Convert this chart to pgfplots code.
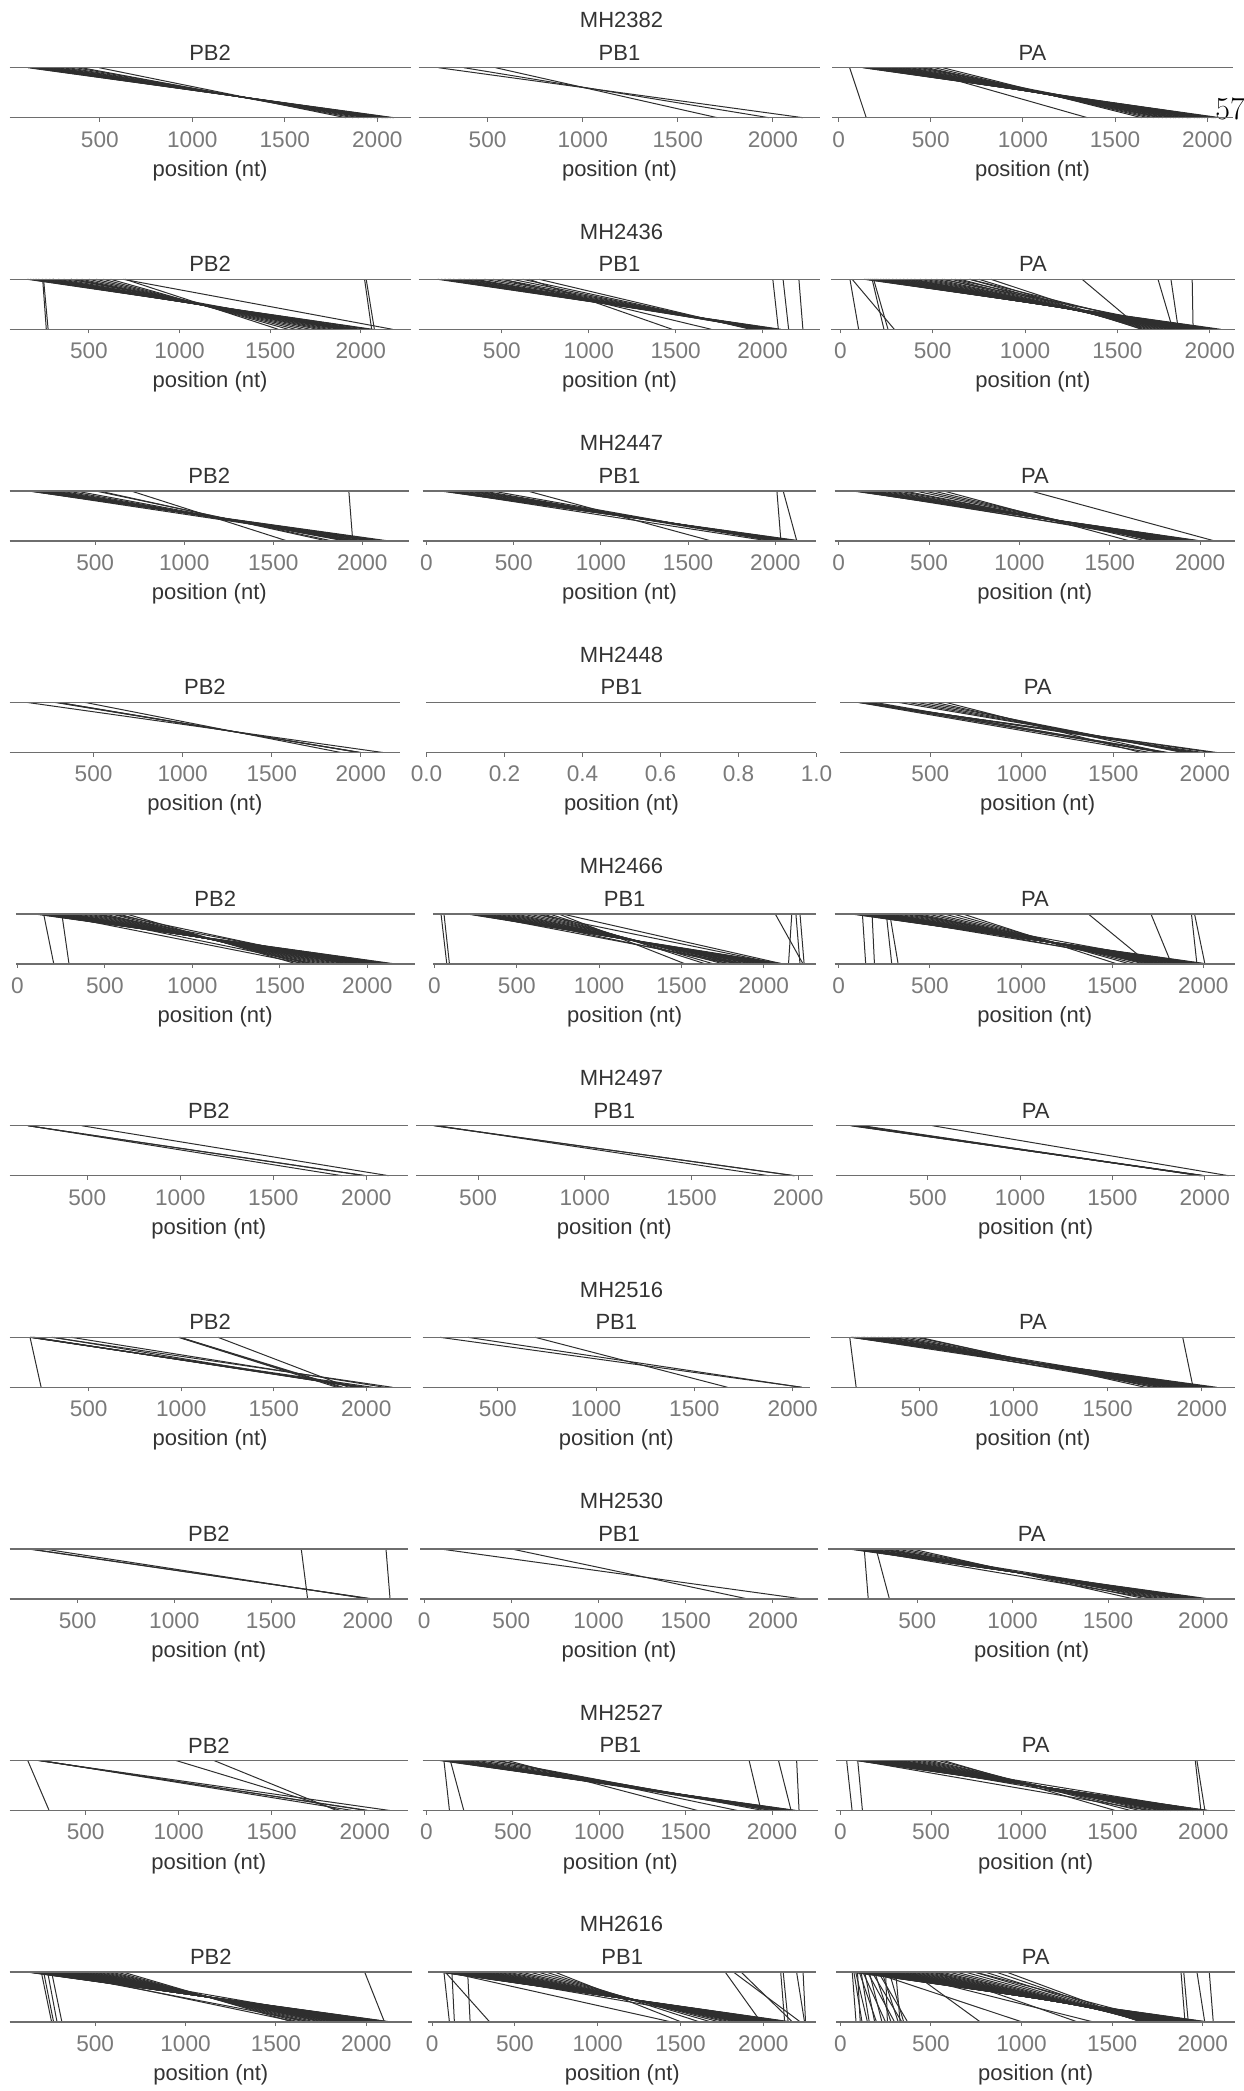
\documentclass[border=0pt]{standalone}
\usepackage{fontspec}
\usepackage{pgfplots}
\pgfplotsset{compat=1.18}
\newfontfamily\sans{Liberation Sans}
\definecolor{axgray}{HTML}{6E6E6E}
\definecolor{tickgray}{HTML}{7A7A7A}
\definecolor{txtcol}{HTML}{333333}
\definecolor{lncol}{HTML}{2E2E2E}
\newcommand\fs{\sans\fontsize{11.3}{13}\selectfont}
\newcommand\ft{\sans\fontsize{11}{13}\selectfont}
\pgfplotsset{
 panel/.style={
  scale only axis, height=25pt, ymin=0, ymax=1, ytick=\empty,
  xtick={0,500,1000,1500,2000},
  xtick pos=left, tick align=outside, major tick length=2pt,
  tick style={axgray, line width=0.5pt},
  axis line style={draw=none},
  clip=false, scaled x ticks=false,
  xticklabel style={font=\fs, text=tickgray, yshift=-1.3pt},
  /pgf/number format/1000 sep={},
  /pgf/number format/assume math mode=true,
  xlabel={position (nt)},
  every axis x label/.style={at={(axis description cs:0.5,0)}, anchor=center, yshift=-26.4pt, font=\ft, text=txtcol},
  every axis title/.style={at={(axis description cs:0.5,1)}, anchor=center, yshift=7.6pt, font=\ft, text=txtcol},
 },
 seg/.style={draw=lncol, line width=0.5pt, quiver={u=\thisrow{b}-\thisrow{a}, v=-1}},
}
\newcommand\frameit{%
 \draw[axgray, line width=0.65pt] (rel axis cs:0,0) -- (rel axis cs:1,0);
 \draw[axgray, line width=0.65pt] (rel axis cs:0,1) -- (rel axis cs:1,1);}
% #1 left, #2 right (reference units), #3 row, #4 xmin, #5 xmax, #6 title, #7 segments (start end)
\newcommand\panel[7]{%
 \pgfmathsetmacro\pL{#1*0.39635}%
 \pgfmathsetmacro\pW{(#2-#1)*0.39635}%
 \pgfmathsetmacro\pB{-(117.7+211.6*#3)*0.5}%
 \begin{axis}[panel, at={(\pL pt,\pB pt)}, anchor=south west, width=\pW pt, xmin=#4, xmax=#5, title={#6}]
 \addplot[seg] table[x=a, y expr=1, row sep=\\] {a b\\ #7};
 \frameit
 \end{axis}}
\newcommand\emptypanel[4]{%
 \pgfmathsetmacro\pL{#1*0.39635}%
 \pgfmathsetmacro\pW{(#2-#1)*0.39635}%
 \pgfmathsetmacro\pB{-(117.7+211.6*#3)*0.5}%
 \begin{axis}[panel, at={(\pL pt,\pB pt)}, anchor=south west, width=\pW pt, xmin=0, xmax=1, title={#4},
   xtick={0,0.2,0.4,0.6,0.8,1}, xticklabels={0.0,0.2,0.4,0.6,0.8,1.0}]
 \frameit
 \end{axis}}
\begin{document}
\begin{tikzpicture}
\useasboundingbox (0,0) rectangle (621.5pt,-1045.5pt);
\foreach \r/\t in {0/MH2382,1/MH2436,2/MH2447,3/MH2448,4/MH2466,5/MH2497,6/MH2516,7/MH2530,8/MH2527,9/MH2616}
  \node[font=\ft, text=txtcol] at (310.75pt,{-(20+211.6*\r)*0.5pt}) {\t};
\node[font=\fontsize{16}{16}\selectfont, anchor=base west, inner sep=0pt] at (607.5pt,-59.6pt) {57};
% ---------- MH2382
\panel{12}{518}{0}{12}{2180}{PB2}{111 2090\\125 2075\\140 2060\\160 2050\\175 2040\\190 2030\\210 2010\\230 2000\\250 1990\\270 1970\\300 1950\\330 1930\\370 1900\\400 1870\\497 1830\\}
\panel{528}{1035}{0}{137}{2250}{PB1}{242 2158\\375 1979\\542 1708\\}
\panel{1050}{1555}{0}{-34}{2138}{PA}{60 150\\396 1350\\130 2070\\140 2050\\150 2030\\165 2010\\180 1990\\195 1975\\210 1950\\230 1935\\250 1910\\270 1895\\290 1870\\310 1850\\330 1830\\360 1805\\390 1780\\420 1760\\450 1740\\480 1710\\520 1680\\565 1645\\200 2040\\280 1960\\350 1900\\450 1820\\}
% ---------- MH2436
\panel{12}{518}{1}{62}{2275}{PB2}{250 275\\245 265\\2021 2060\\2030 2075\\690 2175\\160 2065\\175 2050\\190 2030\\205 2000\\220 1980\\240 1960\\260 1940\\280 1920\\300 1900\\330 1880\\360 1850\\400 1820\\430 1790\\460 1760\\500 1720\\540 1680\\580 1640\\620 1600\\700 1545\\300 1960\\400 1900\\}
\panel{528}{1035}{1}{21}{2333}{PB1}{2059 2091\\2118 2150\\2209 2232\\656 1480\\505 1705\\131 2105\\150 2090\\170 2080\\190 2070\\220 2060\\250 2050\\280 2040\\310 2030\\350 2020\\400 2000\\450 1990\\500 1980\\560 1960\\620 1950\\715 1930\\200 2030\\260 2010\\330 1990\\}
\panel{1048}{1558}{1}{-52}{2137}{PA}{52 99\\64 292\\172 236\\180 258\\1309 1631\\1720 1800\\1790 1830\\1905 1910\\129 2060\\140 2040\\150 2030\\160 2010\\170 2000\\180 1990\\190 1975\\200 1960\\215 1950\\230 1940\\245 1925\\260 1910\\280 1900\\300 1890\\320 1870\\340 1860\\360 1850\\380 1830\\400 1810\\430 1800\\460 1780\\490 1760\\520 1740\\560 1720\\600 1700\\650 1680\\700 1660\\750 1640\\815 1631\\550 1900\\620 1850\\700 1800\\}
% ---------- MH2447
\panel{12}{516}{2}{19}{2262}{PB2}{1924 1946\\700 1577\\121 2146\\135 2120\\150 2100\\165 2080\\180 2060\\200 2040\\220 2010\\240 1990\\270 1960\\300 1940\\340 1920\\388 1900\\500 1830\\520 1800\\130 2000\\250 1950\\}
\panel{533}{1030}{2}{-23}{2236}{PB1}{2009 2032\\2045 2123\\577 1632\\77 2145\\90 2130\\110 2110\\130 2100\\150 2090\\170 2080\\200 2070\\230 2060\\260 2040\\290 2020\\320 2000\\373 1990\\100 1960\\250 1990\\}
\panel{1053}{1558}{2}{-22}{2193}{PA}{1061 2079\\75 2004\\90 1990\\105 1980\\120 1960\\140 1940\\160 1920\\180 1900\\200 1880\\230 1860\\260 1840\\290 1820\\330 1800\\360 1780\\420 1760\\470 1740\\520 1700\\579 1610\\100 1850\\150 1800\\}
% ---------- MH2448
\panel{12}{505}{3}{28}{2222}{PB2}{130 2124\\286 2000\\300 1995\\308 1990\\455 1888\\}
\emptypanel{538}{1030}{3}{PB1}
\panel{1060}{1558}{3}{8}{2165}{PA}{109 2065\\120 2040\\135 1990\\150 1960\\140 1760\\170 1800\\200 1780\\330 1940\\380 1920\\430 1900\\480 1880\\530 1780\\587 1652\\110 1700\\125 1780\\}
% ---------- MH2466
\panel{20}{523}{4}{-9}{2270}{PB2}{150 208\\254 295\\104 2166\\115 2150\\125 2130\\135 2110\\145 2090\\160 2070\\175 2050\\190 2030\\205 2010\\220 1990\\240 1970\\260 1950\\280 1930\\300 1900\\320 1880\\350 1850\\380 1820\\410 1790\\440 1760\\470 1730\\500 1700\\540 1670\\580 1640\\625 1600\\200 1650\\300 1700\\450 1950\\550 1900\\}
\panel{546}{1030}{4}{-10}{2320}{PB1}{40 75\\58 91\\2070 2239\\2170 2150\\2195 2220\\2220 2245\\780 2120\\202 2128\\215 2110\\230 2090\\245 2070\\260 2050\\280 2030\\300 2010\\320 1990\\350 1970\\380 1950\\410 1930\\440 1900\\470 1880\\500 1860\\540 1840\\580 1800\\620 1760\\660 1700\\700 1650\\756 1526\\250 1850\\350 1800\\620 2100\\}
\panel{1053}{1558}{4}{-22}{2174}{PA}{130 148\\183 196\\261 291\\280 326\\1370 1704\\1713 1826\\1935 1965\\1952 2009\\74 2030\\85 2015\\95 2000\\105 1990\\115 1980\\125 1970\\135 1960\\145 1950\\160 1940\\175 1925\\190 1910\\205 1900\\220 1890\\240 1870\\260 1860\\280 1840\\300 1820\\330 1800\\360 1780\\390 1760\\420 1740\\450 1720\\490 1700\\530 1680\\580 1640\\630 1600\\683 1530\\150 1800\\250 1750\\400 1900\\}
% ---------- MH2497
\panel{12}{515}{5}{82}{2225}{PB2}{180 2000\\182 1990\\185 1870\\470 2120\\}
\panel{525}{1025}{5}{210}{2067}{PB1}{292 1985\\300 1980\\310 1862\\}
\panel{1055}{1558}{5}{5}{2164}{PA}{526 2129\\82 2000\\90 1990\\100 1985\\110 1980\\125 1995\\147 1975\\}
% ---------- MH2516
\panel{12}{518}{6}{72}{2240}{PB2}{183 243\\183 2035\\185 2000\\190 1990\\195 1980\\200 1970\\205 1960\\299 2142\\310 1950\\406 2100\\985 1842\\990 1860\\995 1875\\1199 1906\\}
\panel{533}{1022}{6}{117}{2089}{PB1}{206 2048\\347 2045\\690 1669\\}
\panel{1048}{1558}{6}{28}{2177}{PA}{129 163\\1899 1954\\135 2080\\145 2060\\155 2040\\165 2020\\175 2000\\190 1980\\205 1960\\220 1940\\240 1920\\260 1900\\280 1880\\300 1860\\330 1840\\360 1820\\400 1800\\440 1770\\480 1740\\500 1700\\140 1900\\200 1850\\250 1780\\350 1950\\}
% ---------- MH2530
\panel{12}{515}{7}{148}{2209}{PB2}{242 2025\\255 2018\\324 2004\\1656 1689\\2094 2115\\}
\panel{530}{1032}{7}{-23}{2259}{PB1}{91 2168\\500 1855\\}
\panel{1045}{1558}{7}{34}{2166}{PA}{222 243\\284 354\\138 2030\\150 2010\\160 1995\\170 1980\\185 1960\\200 1940\\220 1920\\240 1900\\260 1880\\290 1850\\320 1820\\350 1790\\390 1760\\430 1700\\471 1635\\180 1750\\300 1950\\}
% ---------- MH2527
\panel{12}{515}{8}{91}{2234}{PB2}{189 304\\244 2136\\250 2021\\255 2010\\261 1935\\986 1872\\1190 1850\\}
\panel{533}{1032}{8}{-23}{2266}{PB1}{101 133\\138 216\\1867 1936\\2037 2110\\2142 2156\\78 2142\\90 2130\\100 2120\\115 2110\\130 2100\\150 2090\\175 2080\\200 2070\\230 2060\\260 2050\\300 2040\\350 2000\\400 1950\\420 1800\\468 1569\\120 2050\\200 2000\\}
\panel{1055}{1558}{8}{-22}{2175}{PA}{35 65\\96 122\\1956 1987\\1965 2009\\87 2030\\95 2020\\105 2010\\115 2000\\125 1995\\135 1990\\145 1980\\155 1970\\165 1960\\175 1950\\190 1940\\205 1930\\220 1920\\235 1910\\250 1900\\270 1880\\290 1860\\310 1840\\330 1820\\350 1800\\380 1780\\410 1760\\440 1730\\470 1700\\500 1650\\540 1600\\568 1515\\100 1700\\200 1800\\300 2000\\}
% ---------- MH2616
\panel{12}{520}{9}{26}{2254}{PB2}{202 259\\237 289\\259 316\\215 270\\1991 2101\\127 2145\\132 2135\\138 2125\\145 2115\\152 2105\\160 2095\\168 2085\\176 2075\\185 2065\\195 2055\\205 2045\\215 2035\\225 2025\\236 2015\\248 2005\\260 1995\\272 1985\\285 1975\\298 1965\\312 1950\\326 1935\\340 1920\\355 1905\\370 1890\\386 1875\\402 1860\\420 1845\\438 1830\\456 1810\\475 1790\\495 1770\\515 1750\\540 1720\\565 1690\\590 1660\\620 1630\\654 1596\\300 1620\\250 1700\\400 2000\\}
\panel{540}{1030}{9}{-24}{2321}{PB1}{72 105\\80 349\\215 230\\120 135\\96 1450\\1770 1986\\1820 2225\\1866 2177\\2105 2129\\2120 2150\\2201 2249\\2240 2255\\48 2177\\55 2165\\62 2155\\70 2145\\78 2135\\86 2125\\95 2115\\105 2105\\115 2095\\125 2085\\136 2075\\148 2065\\160 2055\\172 2045\\185 2035\\198 2025\\212 2015\\226 2005\\240 1995\\256 1985\\272 1975\\290 1960\\310 1945\\330 1930\\352 1915\\375 1900\\400 1880\\430 1860\\460 1840\\500 1810\\540 1780\\590 1740\\640 1690\\690 1620\\742 1507\\300 1928\\150 1900\\}
\panel{1055}{1558}{9}{-22}{2178}{PA}{66 87\\75 120\\85 150\\95 110\\105 200\\115 160\\125 250\\135 190\\150 300\\160 230\\175 340\\190 280\\210 372\\230 320\\250 260\\270 350\\306 330\\394 774\\175 1006\\525 1312\\300 1400\\744 1793\\1880 1902\\1895 1920\\1968 2011\\2036 2058\\66 2036\\72 2025\\78 2015\\85 2005\\92 1995\\100 1985\\108 1975\\116 1965\\125 1955\\135 1945\\145 1935\\155 1925\\166 1915\\178 1905\\190 1895\\203 1885\\216 1875\\230 1865\\245 1855\\260 1845\\276 1835\\293 1825\\310 1815\\330 1805\\350 1795\\372 1785\\395 1775\\420 1765\\445 1755\\472 1745\\500 1735\\530 1725\\560 1710\\600 1700\\640 1690\\690 1680\\740 1675\\800 1670\\860 1665\\918 1661\\}
\end{tikzpicture}
\end{document}
